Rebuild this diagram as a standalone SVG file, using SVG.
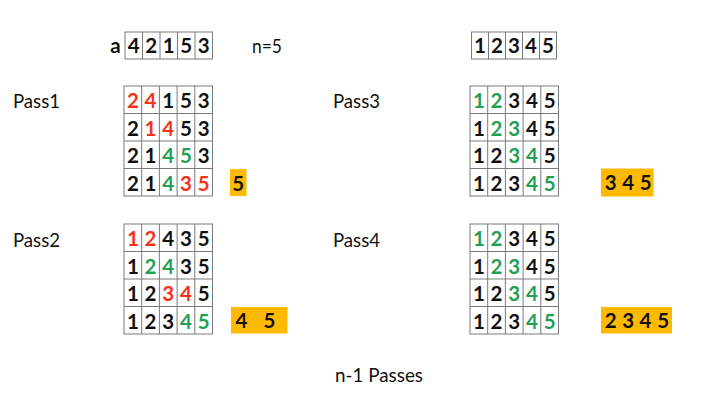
<svg xmlns="http://www.w3.org/2000/svg" width="723" height="402" viewBox="0 0 723 402">
<style>
.g{fill:#fff;stroke:#7a7a7a;stroke-width:1}
.ln{fill:none;stroke:#7a7a7a;stroke-width:1}
.d{font-family:Lato,"Open Sans","Liberation Sans",sans-serif;font-weight:700;font-size:20.5px;text-anchor:middle;fill:#111}
.r{fill:#f5331c}
.gr{fill:#1fa055}
.lb{font-family:Lato,"Open Sans","Liberation Sans",sans-serif;font-size:19px;fill:#111}
.hl{fill:#ffba00}
</style>
<rect width="723" height="402" fill="#fff"/>

<g id="array-a">
<text class="d" x="115.4" y="53">a</text>
<rect class="g" x="125" y="32" width="87.5" height="27"/>
<path class="ln" d="M142.5 32V59M160 32V59M177.5 32V59M195 32V59"/>
<text class="d" x="133.75" y="53">4</text>
<text class="d" x="151.25" y="53">2</text>
<text class="d" x="168.75" y="53">1</text>
<text class="d" x="186.25" y="53">5</text>
<text class="d" x="203.75" y="53">3</text>
</g>
<g id="n-label"><text class="lb" x="252" y="53" textLength="30" lengthAdjust="spacingAndGlyphs">n=5</text></g>

<g id="array-sorted">
<rect class="g" x="471.5" y="32" width="85" height="27"/>
<path class="ln" d="M488.5 32V59M505.5 32V59M522.5 32V59M539.5 32V59"/>
<text class="d" x="480" y="53">1</text>
<text class="d" x="497" y="53">2</text>
<text class="d" x="514" y="53">3</text>
<text class="d" x="531" y="53">4</text>
<text class="d" x="548" y="53">5</text>
</g>

<g id="pass1">
<text class="lb" x="13" y="108" textLength="47" lengthAdjust="spacingAndGlyphs">Pass1</text>
<rect class="g" x="124" y="86" width="88.5" height="110"/>
<path class="ln" d="M141.7 86V196M159.4 86V196M177.1 86V196M194.8 86V196M124 113.5H212.5M124 141H212.5M124 168.5H212.5"/>
<text class="d r" x="132.85" y="108">2</text><text class="d r" x="150.55" y="108">4</text><text class="d" x="168.25" y="108">1</text><text class="d" x="185.95" y="108">5</text><text class="d" x="203.65" y="108">3</text>
<text class="d" x="132.85" y="135.5">2</text><text class="d r" x="150.55" y="135.5">1</text><text class="d r" x="168.25" y="135.5">4</text><text class="d" x="185.95" y="135.5">5</text><text class="d" x="203.65" y="135.5">3</text>
<text class="d" x="132.85" y="163">2</text><text class="d" x="150.55" y="163">1</text><text class="d gr" x="168.25" y="163">4</text><text class="d gr" x="185.95" y="163">5</text><text class="d" x="203.65" y="163">3</text>
<text class="d" x="132.85" y="190.5">2</text><text class="d" x="150.55" y="190.5">1</text><text class="d gr" x="168.25" y="190.5">4</text><text class="d r" x="185.95" y="190.5">3</text><text class="d r" x="203.65" y="190.5">5</text>
<rect class="hl" x="230" y="169" width="16.5" height="27"/>
<text class="d" x="238.2" y="190.5">5</text>
</g>

<g id="pass2">
<text class="lb" x="13" y="247" textLength="47" lengthAdjust="spacingAndGlyphs">Pass2</text>
<rect class="g" x="124" y="224" width="88.5" height="110"/>
<path class="ln" d="M141.7 224V334M159.4 224V334M177.1 224V334M194.8 224V334M124 251.5H212.5M124 279H212.5M124 306.5H212.5"/>
<text class="d r" x="132.85" y="246">1</text><text class="d r" x="150.55" y="246">2</text><text class="d" x="168.25" y="246">4</text><text class="d" x="185.95" y="246">3</text><text class="d" x="203.65" y="246">5</text>
<text class="d" x="132.85" y="273.5">1</text><text class="d gr" x="150.55" y="273.5">2</text><text class="d gr" x="168.25" y="273.5">4</text><text class="d" x="185.95" y="273.5">3</text><text class="d" x="203.65" y="273.5">5</text>
<text class="d" x="132.85" y="301">1</text><text class="d" x="150.55" y="301">2</text><text class="d r" x="168.25" y="301">3</text><text class="d r" x="185.95" y="301">4</text><text class="d" x="203.65" y="301">5</text>
<text class="d" x="132.85" y="328.5">1</text><text class="d" x="150.55" y="328.5">2</text><text class="d" x="168.25" y="328.5">3</text><text class="d gr" x="185.95" y="328.5">4</text><text class="d gr" x="203.65" y="328.5">5</text>
<rect class="hl" x="231" y="307" width="56.5" height="26.5"/>
<text class="d" x="241.5" y="328">4</text>
<text class="d" x="269.5" y="328">5</text>
</g>

<g id="pass3">
<text class="lb" x="333" y="108" textLength="47" lengthAdjust="spacingAndGlyphs">Pass3</text>
<rect class="g" x="470" y="86" width="88.5" height="110"/>
<path class="ln" d="M487.7 86V196M505.4 86V196M523.1 86V196M540.8 86V196M470 113.5H558.5M470 141H558.5M470 168.5H558.5"/>
<text class="d gr" x="478.85" y="108">1</text><text class="d gr" x="496.55" y="108">2</text><text class="d" x="514.25" y="108">3</text><text class="d" x="531.95" y="108">4</text><text class="d" x="549.65" y="108">5</text>
<text class="d" x="478.85" y="135.5">1</text><text class="d gr" x="496.55" y="135.5">2</text><text class="d gr" x="514.25" y="135.5">3</text><text class="d" x="531.95" y="135.5">4</text><text class="d" x="549.65" y="135.5">5</text>
<text class="d" x="478.85" y="163">1</text><text class="d" x="496.55" y="163">2</text><text class="d gr" x="514.25" y="163">3</text><text class="d gr" x="531.95" y="163">4</text><text class="d" x="549.65" y="163">5</text>
<text class="d" x="478.85" y="190.5">1</text><text class="d" x="496.55" y="190.5">2</text><text class="d" x="514.25" y="190.5">3</text><text class="d gr" x="531.95" y="190.5">4</text><text class="d gr" x="549.65" y="190.5">5</text>
<rect class="hl" x="601" y="168.5" width="52.5" height="28"/>
<text class="d" x="610.7" y="190">3</text>
<text class="d" x="628.3" y="190">4</text>
<text class="d" x="645.7" y="190">5</text>
</g>

<g id="pass4">
<text class="lb" x="333" y="247" textLength="47" lengthAdjust="spacingAndGlyphs">Pass4</text>
<rect class="g" x="470" y="224" width="88.5" height="110"/>
<path class="ln" d="M487.7 224V334M505.4 224V334M523.1 224V334M540.8 224V334M470 251.5H558.5M470 279H558.5M470 306.5H558.5"/>
<text class="d gr" x="478.85" y="246">1</text><text class="d gr" x="496.55" y="246">2</text><text class="d" x="514.25" y="246">3</text><text class="d" x="531.95" y="246">4</text><text class="d" x="549.65" y="246">5</text>
<text class="d" x="478.85" y="273.5">1</text><text class="d gr" x="496.55" y="273.5">2</text><text class="d gr" x="514.25" y="273.5">3</text><text class="d" x="531.95" y="273.5">4</text><text class="d" x="549.65" y="273.5">5</text>
<text class="d" x="478.85" y="301">1</text><text class="d" x="496.55" y="301">2</text><text class="d gr" x="514.25" y="301">3</text><text class="d gr" x="531.95" y="301">4</text><text class="d" x="549.65" y="301">5</text>
<text class="d" x="478.85" y="328.5">1</text><text class="d" x="496.55" y="328.5">2</text><text class="d" x="514.25" y="328.5">3</text><text class="d gr" x="531.95" y="328.5">4</text><text class="d gr" x="549.65" y="328.5">5</text>
<rect class="hl" x="601" y="307" width="71" height="26.5"/>
<text class="d" x="610.7" y="328">2</text>
<text class="d" x="628.3" y="328">3</text>
<text class="d" x="645.5" y="328">4</text>
<text class="d" x="663.3" y="328">5</text>
</g>

<g id="caption"><text class="lb" x="335" y="382" textLength="88" lengthAdjust="spacingAndGlyphs">n-1 Passes</text></g>
</svg>
